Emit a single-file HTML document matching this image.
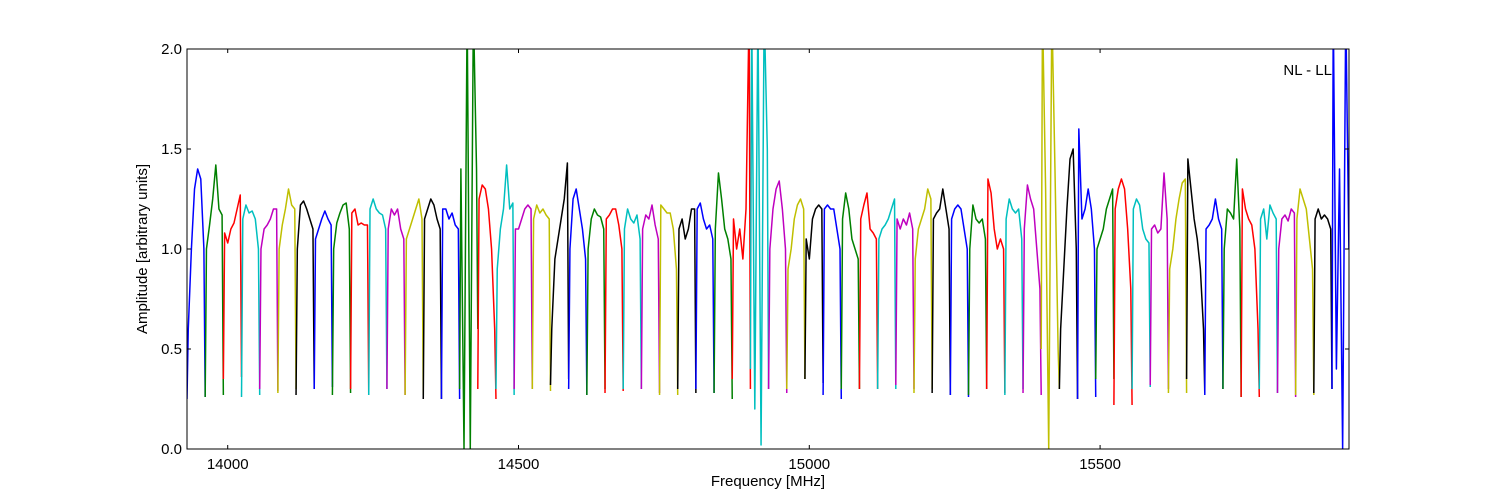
<!DOCTYPE html>
<html><head><meta charset="utf-8"><style>
html,body{margin:0;padding:0;background:#fff;}
svg{display:block;font-family:"Liberation Sans","DejaVu Sans",sans-serif;}
</style></head><body>
<svg id="chart" width="1500" height="500" viewBox="0 0 1500 500">
<defs><clipPath id="clip"><rect x="187" y="49" width="1162" height="400"/></clipPath></defs>
<g id="series" clip-path="url(#clip)"></g>
<rect x="187" y="49" width="1162" height="400" fill="none" stroke="#000" stroke-width="1"/>
<g id="xticks"></g>
<g id="yticks"></g>
<text x="768" y="486" font-size="15" text-anchor="middle">Frequency [MHz]</text>
<text x="147" y="249" font-size="15" text-anchor="middle" transform="rotate(-90 147 249)">Amplitude [arbitrary units]</text>
<text x="1332" y="75" font-size="15" text-anchor="end">NL - LL</text>
</svg>
<script>
const xTicks = [14000, 14500, 15000, 15500];
const yTicks = [0.0, 0.5, 1.0, 1.5, 2.0];
const yTickLabels = ["0.0", "0.5", "1.0", "1.5", "2.0"];
const firstSubbandStart = 13930;
const subbandWidth = 31.25;
const colorCycle = ["#0000ff", "#008000", "#ff0000", "#00bfbf", "#bf00bf", "#bfbf00", "#000000"];
const subbands = [
[0.25,0.6,1.0,1.3,1.40,1.35,1.0,0.26],
[0.26,1.0,1.12,1.25,1.42,1.2,1.17,0.27],
[0.35,1.08,1.03,1.1,1.13,1.2,1.27,0.36],
[0.26,1.15,1.22,1.18,1.19,1.15,1.0,0.27],
[0.3,1.0,1.1,1.12,1.15,1.2,1.2,0.29],
[0.28,1.0,1.12,1.2,1.3,1.22,1.2,0.3],
[0.27,1.0,1.22,1.24,1.2,1.15,1.1,0.3],
[0.3,1.05,1.1,1.15,1.19,1.15,1.12,0.31],
[0.27,1.0,1.13,1.18,1.22,1.23,1.1,0.28],
[0.3,1.18,1.2,1.12,1.13,1.12,1.12,0.27],
[0.27,1.2,1.25,1.2,1.18,1.17,1.1,0.3],
[0.3,1.1,1.2,1.17,1.2,1.1,1.05,0.27],
[0.27,1.05,1.1,1.15,1.2,1.25,1.15,0.27],
[0.25,1.15,1.2,1.25,1.22,1.15,1.1,0.25],
[0.25,1.2,1.2,1.15,1.18,1.12,1.1,0.25],
[0.3,1.4,0.0,2.2,0.0,2.2,1.4,0.6],
[0.3,1.25,1.32,1.3,1.2,1.0,0.6,0.25],
[0.3,0.9,1.1,1.2,1.42,1.2,1.23,0.27],
[0.3,1.1,1.1,1.15,1.2,1.22,1.2,0.3],
[0.3,1.15,1.22,1.18,1.2,1.17,1.15,0.29],
[0.32,0.6,0.95,1.05,1.15,1.25,1.43,0.35],
[0.3,1.0,1.25,1.3,1.2,1.1,0.95,0.27],
[0.27,1.0,1.15,1.2,1.17,1.16,1.1,0.3],
[0.28,1.15,1.17,1.2,1.2,1.12,1.0,0.29],
[0.3,1.1,1.2,1.15,1.13,1.17,1.05,0.3],
[0.3,1.1,1.17,1.15,1.22,1.12,1.05,0.28],
[0.27,1.22,1.2,1.18,1.18,1.1,0.9,0.27],
[0.3,1.1,1.15,1.05,1.1,1.2,1.2,0.28],
[0.3,1.2,1.23,1.15,1.1,1.12,1.05,0.28],
[0.28,1.1,1.38,1.25,1.1,1.05,0.95,0.25],
[0.35,1.15,1.0,1.1,0.95,1.2,2.2,0.3],
[0.4,2.2,0.2,2.2,0.02,2.2,1.5,0.3],
[0.3,1.0,1.2,1.3,1.34,1.2,1.0,0.28],
[0.3,0.9,1.0,1.15,1.22,1.25,1.2,0.35],
[0.35,1.05,0.95,1.15,1.2,1.22,1.2,0.33],
[0.27,1.2,1.22,1.2,1.2,1.1,1.0,0.25],
[0.3,1.15,1.28,1.2,1.05,1.0,0.95,0.3],
[0.3,1.15,1.22,1.28,1.1,1.08,1.05,0.3],
[0.3,1.05,1.1,1.12,1.15,1.2,1.25,0.3],
[0.32,1.15,1.1,1.15,1.12,1.18,1.1,0.3],
[0.28,0.95,1.1,1.15,1.2,1.3,1.25,0.3],
[0.28,1.15,1.18,1.2,1.3,1.2,1.1,0.27],
[0.27,1.15,1.2,1.22,1.2,1.1,1.0,0.26],
[0.27,1.0,1.22,1.15,1.13,1.15,1.05,0.3],
[0.3,1.35,1.28,1.1,1.0,1.05,1.0,0.28],
[0.27,1.15,1.25,1.2,1.18,1.2,1.05,0.3],
[0.28,1.1,1.32,1.25,1.2,1.0,0.8,0.27],
[0.5,2.2,1.3,0.0,2.2,1.4,0.5,0.3],
[0.3,0.6,0.9,1.2,1.45,1.5,1.0,0.25],
[0.25,1.6,1.15,1.2,1.3,1.2,1.0,0.26],
[0.35,1.0,1.05,1.1,1.2,1.25,1.3,0.35],
[0.22,1.2,1.3,1.35,1.3,1.1,0.8,0.22],
[0.3,1.2,1.25,1.22,1.1,1.05,1.03,0.31],
[0.32,1.1,1.12,1.08,1.1,1.38,1.15,0.3],
[0.28,0.9,1.0,1.15,1.25,1.33,1.35,0.28],
[0.35,1.45,1.3,1.15,1.05,0.9,0.6,0.28],
[0.27,1.1,1.12,1.15,1.25,1.15,1.1,0.3],
[0.3,1.0,1.2,1.18,1.15,1.45,1.1,0.26],
[0.26,1.3,1.2,1.15,1.12,1.0,0.6,0.26],
[0.3,1.15,1.2,1.05,1.22,1.18,1.15,0.28],
[0.28,1.0,1.15,1.17,1.14,1.2,1.18,0.26],
[0.27,1.15,1.3,1.25,1.2,1.05,0.9,0.27],
[0.28,1.15,1.2,1.15,1.17,1.15,1.1,0.3],
[0.3,2.2,0.4,1.4,0.0,2.2,1.0,1.4]
];

const X0 = 187, X1 = 1349, Y0 = 449, Y1 = 49;
const xMin = 13930, xMax = 15928, yMin = 0, yMax = 2;
const edgeFrac = 0.07;
function xs(v){ return X0 + (v - xMin) / (xMax - xMin) * (X1 - X0); }
function ys(v){ return Y0 - (v - yMin) / (yMax - yMin) * (Y0 - Y1); }
const NS = "http://www.w3.org/2000/svg";
const g = document.getElementById("series");
subbands.forEach((vals, i) => {
  const start = firstSubbandStart + i * subbandWidth;
  const n = vals.length;
  const pts = vals.map((v, k) => {
    let f;
    if (k === 0) f = 0;
    else if (k === n - 1) f = 1;
    else f = edgeFrac + (k - 1) / (n - 3) * (1 - 2 * edgeFrac);
    return xs(start + f * subbandWidth).toFixed(2) + "," + ys(v).toFixed(2);
  }).join(" ");
  const pl = document.createElementNS(NS, "polyline");
  pl.setAttribute("points", pts);
  pl.setAttribute("fill", "none");
  pl.setAttribute("stroke", colorCycle[i % colorCycle.length]);
  pl.setAttribute("stroke-width", "1.5");
  pl.setAttribute("stroke-linejoin", "round");
  
  
  g.appendChild(pl);
});
const xg = document.getElementById("xticks");
xTicks.forEach(t => {
  const x = xs(t);
  [[Y0, Y0 - 4], [Y1, Y1 + 4]].forEach(([a, b]) => {
    const l = document.createElementNS(NS, "line");
    l.setAttribute("x1", x); l.setAttribute("x2", x);
    l.setAttribute("y1", a); l.setAttribute("y2", b);
    l.setAttribute("stroke", "#000");
    
    
    xg.appendChild(l);
  });
  const tx = document.createElementNS(NS, "text");
  tx.setAttribute("x", x); tx.setAttribute("y", 469);
  tx.setAttribute("font-size", "15"); tx.setAttribute("text-anchor", "middle");
  tx.textContent = String(t);
  
  
  xg.appendChild(tx);
});
const yg = document.getElementById("yticks");
yTicks.forEach((t, i) => {
  const y = ys(t);
  [[X0, X0 + 4], [X1, X1 - 4]].forEach(([a, b]) => {
    const l = document.createElementNS(NS, "line");
    l.setAttribute("x1", a); l.setAttribute("x2", b);
    l.setAttribute("y1", y); l.setAttribute("y2", y);
    l.setAttribute("stroke", "#000");
    
    
    yg.appendChild(l);
  });
  const tx = document.createElementNS(NS, "text");
  tx.setAttribute("x", 182); tx.setAttribute("y", y + 5);
  tx.setAttribute("font-size", "15"); tx.setAttribute("text-anchor", "end");
  tx.textContent = yTickLabels[i];
  
  
  yg.appendChild(tx);
});
</script>
</body></html>
